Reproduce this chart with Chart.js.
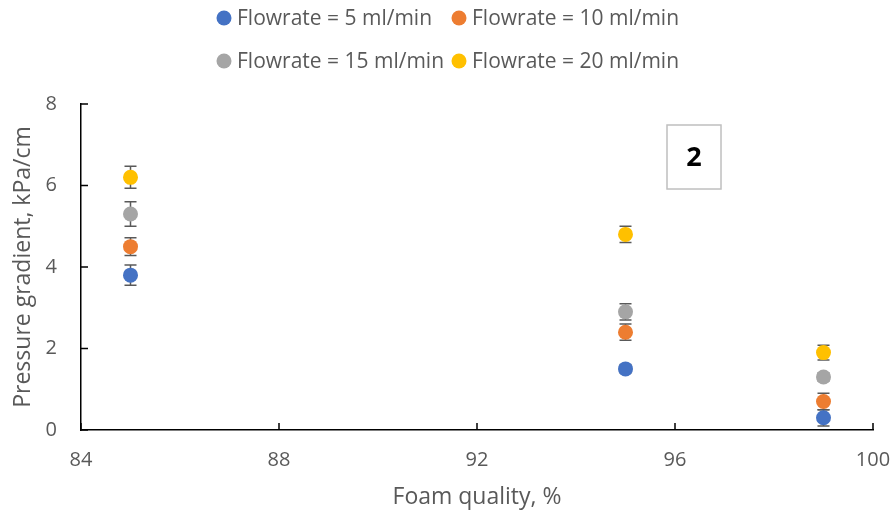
<!DOCTYPE html>
<html>
<head>
<meta charset="utf-8">
<script src="https://cdn.jsdelivr.net/npm/chart.js@4/dist/chart.umd.min.js"></script>
<style>
  html, body { margin: 0; padding: 0; background: #fff; }
  #wrap { width: 894px; height: 518px; position: relative; }
</style>
</head>
<body>
<div id="wrap"><canvas id="chart"></canvas></div>
<script>
// Foam quality (%) at which each flowrate was measured
const foamQuality = [85, 95, 99];

// Pressure gradient (kPa/cm) per flowrate
const flow5  = [3.8, 1.5, 0.3];
const flow10 = [4.5, 2.4, 0.7];
const flow15 = [5.3, 2.9, 1.3];
const flow20 = [6.2, 4.8, 1.9];

// Standard deviation (kPa/cm) per flowrate
const err5  = [0.25, 0.1, 0.2];
const err10 = [0.22, 0.2, 0.2];
const err15 = [0.3, 0.2, 0.1];
const err20 = [0.27, 0.2, 0.18];

const seriesNames = ['Flowrate = 5 ml/min', 'Flowrate = 10 ml/min', 'Flowrate = 15 ml/min', 'Flowrate = 20 ml/min'];
const seriesColors = ['#4472C4', '#ED7D31', '#A5A5A5', '#FFC000'];
const seriesValues = [flow5, flow10, flow15, flow20];
const seriesErrors = [err5, err10, err15, err20];

const xTicks = [84, 88, 92, 96, 100];
const yTicks = [0, 2, 4, 6, 8];
const panelLabel = '2';

const FONT = "'Open Sans', 'Noto Sans', sans-serif";
const TEXT = '#595959';

const datasets = seriesValues.map((vals, i) => ({
  label: seriesNames[i],
  data: foamQuality.map((q, j) => ({ x: q, y: vals[j] })),
  errors: seriesErrors[i],
  backgroundColor: seriesColors[i],
  borderColor: seriesColors[i],
  borderWidth: 0,
  pointRadius: 7.5,
  pointHoverRadius: 7.5,
  showLine: false
}));

// Vertical error bars with caps, drawn underneath the markers
const errorBars = {
  id: 'errorBars',
  beforeDatasetsDraw(chart) {
    const { ctx, scales: { x, y } } = chart;
    ctx.save();
    ctx.strokeStyle = '#595959';
    ctx.lineWidth = 1.5;
    chart.data.datasets.forEach(ds => {
      ds.data.forEach((p, j) => {
        const e = ds.errors[j];
        const px = x.getPixelForValue(p.x);
        const top = y.getPixelForValue(p.y + e);
        const bot = y.getPixelForValue(p.y - e);
        ctx.beginPath();
        ctx.moveTo(px, top); ctx.lineTo(px, bot);
        ctx.moveTo(px - 6, top); ctx.lineTo(px + 6, top);
        ctx.moveTo(px - 6, bot); ctx.lineTo(px + 6, bot);
        ctx.stroke();
      });
    });
    ctx.restore();
  }
};

// Inward tick marks on both axes
const innerTicks = {
  id: 'innerTicks',
  afterDatasetsDraw(chart) {
    const { ctx, chartArea: a, scales: { x, y } } = chart;
    ctx.save();
    ctx.strokeStyle = '#000';
    ctx.lineWidth = 1.5;
    ctx.beginPath();
    yTicks.forEach(v => {
      const py = y.getPixelForValue(v);
      ctx.moveTo(a.left, py); ctx.lineTo(a.left + 7, py);
    });
    xTicks.forEach(v => {
      const px = x.getPixelForValue(v);
      ctx.moveTo(px, a.bottom); ctx.lineTo(px, a.bottom - 7);
    });
    ctx.stroke();
    ctx.restore();
  }
};

// Two-column legend above the plot, plus the boxed panel label
const legendAndLabel = {
  id: 'legendAndLabel',
  afterDraw(chart) {
    const { ctx, chartArea: a } = chart;
    ctx.save();
    const cols = [224, 459];
    const rows = [18, 61];
    ctx.font = `21px ${FONT}`;
    ctx.textBaseline = 'middle';
    ctx.textAlign = 'left';
    seriesNames.forEach((name, i) => {
      const cx = cols[i % 2], cy = rows[Math.floor(i / 2)];
      ctx.fillStyle = seriesColors[i];
      ctx.beginPath();
      ctx.arc(cx, cy, 7.5, 0, Math.PI * 2);
      ctx.fill();
      ctx.fillStyle = TEXT;
      ctx.fillText(name, cx + 13, cy + 1);
    });

    // panel label box
    const bx = a.left + 586, by = a.top + 21, bw = 54, bh = 64;
    ctx.strokeStyle = '#BFBFBF';
    ctx.lineWidth = 1.5;
    ctx.strokeRect(bx, by, bw, bh);
    ctx.fillStyle = '#000';
    ctx.font = `bold 27px ${FONT}`;
    ctx.textAlign = 'center';
    ctx.fillText(panelLabel, bx + bw / 2, by + bh / 2 + 1);
    ctx.restore();
  }
};

new Chart(document.getElementById('chart'), {
  type: 'scatter',
  data: { datasets },
  plugins: [errorBars, innerTicks, legendAndLabel],
  options: {
    responsive: true,
    maintainAspectRatio: false,
    animation: false,
    layout: { padding: { top: 104, right: 21, left: 0, bottom: 0 } },
    plugins: {
      legend: { display: false },
      tooltip: { enabled: false }
    },
    scales: {
      x: {
        type: 'linear',
        min: 84, max: 100,
        afterBuildTicks: s => { s.ticks = xTicks.map(v => ({ value: v })); },
        afterFit: s => { s.height = 88; s.paddingLeft = 0; s.paddingRight = 0; },
        grid: { display: false, drawTicks: false },
        border: { display: true, color: '#000', width: 1.5 },
        ticks: { color: TEXT, font: { family: FONT, size: 20 }, padding: 18, maxRotation: 0 },
        title: {
          display: true, text: 'Foam quality, %', color: TEXT,
          font: { family: FONT, size: 23 }, padding: { top: 0, bottom: 7 }
        }
      },
      y: {
        type: 'linear',
        min: 0, max: 8,
        afterBuildTicks: s => { s.ticks = yTicks.map(v => ({ value: v })); },
        afterFit: s => { s.width = 81; s.paddingTop = 0; s.paddingBottom = 0; },
        grid: { display: false, drawTicks: false },
        border: { display: true, color: '#000', width: 1.5 },
        ticks: { color: TEXT, font: { family: FONT, size: 20 }, padding: 24 },
        title: {
          display: true, text: 'Pressure gradient, kPa/cm', color: TEXT,
          font: { family: FONT, size: 23 }, padding: { top: 10, bottom: 0 }
        }
      }
    }
  }
});
</script>
</body>
</html>
